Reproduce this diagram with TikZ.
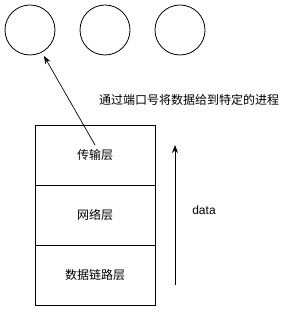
\documentclass[tikz,border=0pt]{standalone}
\usepackage{fontspec}
\setmainfont{Liberation Sans}
\newfontfamily\cjk{Noto Sans CJK SC}
\usetikzlibrary{arrows.meta}
\begin{document}
\begin{tikzpicture}[x=1pt,y=-1pt,
  proc/.style={draw, circle, minimum size=50pt, inner sep=0pt, line width=0.8pt},
  layer/.style={draw, minimum width=120pt, minimum height=60pt, inner sep=0pt, line width=0.8pt, font=\cjk\fontsize{12pt}{14pt}\selectfont},
  arr/.style={-{Stealth[length=8pt,width=6pt]}, line width=0.7pt},
  lbl/.style={inner sep=0pt, font=\fontsize{12pt}{14pt}\selectfont}]
\useasboundingbox (0,0) rectangle (291,312);
\node[proc] (c1) at (30,30) {};
\node[proc] (c2) at (105,30) {};
\node[proc] (c3) at (180,30) {};
\node[layer] (l1) at (95,155) {传输层};
\node[layer] (l2) at (95,215) {网络层};
\node[layer] (l3) at (95,275) {数据链路层};
\coordinate (s) at (95,145);
\coordinate (t) at (44,56);
\draw[arr] (s) -- (t);
\node[lbl, font=\cjk\fontsize{12pt}{14pt}\selectfont] (msg) at (189,100) {通过端口号将数据给到特定的进程};
\coordinate (d1) at (175,285);
\coordinate (d2) at (175,145);
\draw[arr] (d1) -- (d2);
\node[lbl] (data) at (204,210) {data};
\end{tikzpicture}
\end{document}
